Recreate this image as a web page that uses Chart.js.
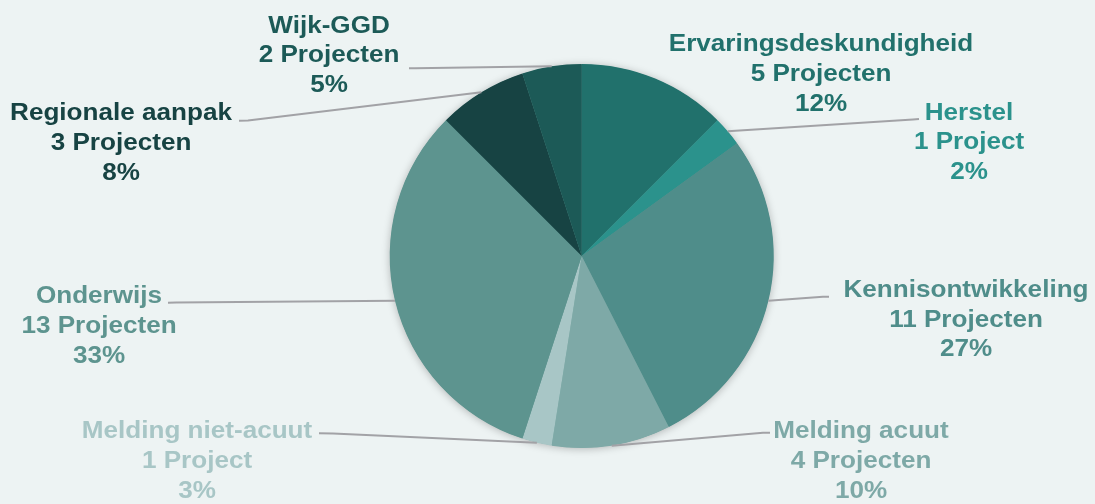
<!DOCTYPE html>
<html>
<head>
<meta charset="utf-8">
<title>Projecten per thema</title>
<script src="https://cdn.jsdelivr.net/npm/chart.js@4/dist/chart.umd.min.js"></script>
<style>
  html, body { margin: 0; padding: 0; background: #edf3f3; }
  canvas { display: block; }
</style>
</head>
<body>
<canvas id="pie" width="1095" height="504"></canvas>
<script>
// Project themes, number of projects per theme and the rounded shares shown in the labels
const themes = ['Ervaringsdeskundigheid', 'Herstel', 'Kennisontwikkeling', 'Melding acuut',
                'Melding niet-acuut', 'Onderwijs', 'Regionale aanpak', 'Wijk-GGD'];
const projectCounts = [5, 1, 11, 4, 1, 13, 3, 2];
const shareLabels = ['12%', '2%', '27%', '10%', '3%', '33%', '8%', '5%'];
const sliceColors = ['#21716c', '#2b928c', '#4f8d8a', '#7ea9a7', '#a8c6c6', '#5d948f', '#174343', '#1c5a57'];

// Where each label block sits: centre x and first baseline, plus the end of its leader line
const labelLayout = [
  { x: 821, y: 51,    attach: null },
  { x: 969, y: 119.5, attach: [919, 119],   elbow: [913, 119.5] },
  { x: 966, y: 296.7, attach: [829, 296.7], elbow: [823, 296.7] },
  { x: 861, y: 438.3, attach: [770, 432.7], elbow: [763, 432.8] },
  { x: 197, y: 438.3, attach: [319, 433.3], elbow: [333, 433.6] },
  { x: 99,  y: 303,   attach: [168, 302.7], elbow: [176, 302.6] },
  { x: 121, y: 120,   attach: [239, 120.7], elbow: [248, 120.5] },
  { x: 329, y: 32.5,  attach: [409, 68.3],  elbow: [415, 68.2] }
];

const FONT = 'bold 23.3px "Liberation Sans", Arial, sans-serif';
const STRETCH = 1.12;
const LINE_GAP = 29.8;

function countText(n) {
  return n + (n === 1 ? ' Project' : ' Projecten');
}

const backgroundPlugin = {
  id: 'pageBackground',
  beforeDraw(chart) {
    const ctx = chart.ctx;
    ctx.save();
    ctx.fillStyle = '#edf3f3';
    ctx.fillRect(0, 0, chart.width, chart.height);
    ctx.restore();
  }
};

// Soft shadow under the whole pie
const pieShadowPlugin = {
  id: 'pieShadow',
  beforeDatasetsDraw(chart) {
    const arc = chart.getDatasetMeta(0).data[0];
    if (!arc) return;
    const ctx = chart.ctx;
    ctx.save();
    ctx.shadowColor = 'rgba(0,0,0,0.28)';
    ctx.shadowBlur = 9;
    ctx.shadowOffsetX = 0;
    ctx.shadowOffsetY = 1;
    ctx.fillStyle = '#5d948f';
    ctx.beginPath();
    ctx.arc(arc.x, arc.y, arc.outerRadius - 0.5, 0, Math.PI * 2);
    ctx.fill();
    ctx.restore();
  }
};

// Category labels with count and share, and grey leader lines to the slices
const calloutPlugin = {
  id: 'callouts',
  afterDatasetsDraw(chart) {
    const ctx = chart.ctx;
    const arcs = chart.getDatasetMeta(0).data;
    ctx.save();
    arcs.forEach((arc, i) => {
      const lay = labelLayout[i];
      if (!lay.attach) return;
      const mid = (arc.startAngle + arc.endAngle) / 2;
      const ex = arc.x + Math.cos(mid) * arc.outerRadius;
      const ey = arc.y + Math.sin(mid) * arc.outerRadius;
      ctx.beginPath();
      ctx.moveTo(ex, ey);
      ctx.lineTo(lay.elbow[0], lay.elbow[1]);
      ctx.lineTo(lay.attach[0], lay.attach[1]);
      ctx.strokeStyle = '#a2a2a6';
      ctx.lineWidth = 2;
      ctx.lineJoin = 'round';
      ctx.stroke();
    });
    ctx.font = FONT;
    ctx.textAlign = 'center';
    ctx.textBaseline = 'alphabetic';
    themes.forEach((name, i) => {
      const lay = labelLayout[i];
      const lines = [name, countText(projectCounts[i]), shareLabels[i]];
      ctx.fillStyle = sliceColors[i];
      lines.forEach((t, k) => {
        ctx.save();
        ctx.translate(lay.x, lay.y + k * LINE_GAP);
        ctx.scale(STRETCH, 1);
        ctx.fillText(t, 0, 0);
        ctx.restore();
      });
    });
    ctx.restore();
  }
};

new Chart(document.getElementById('pie'), {
  type: 'pie',
  data: {
    labels: themes,
    datasets: [{
      data: projectCounts,
      backgroundColor: sliceColors,
      borderWidth: 0,
      hoverOffset: 0
    }]
  },
  options: {
    responsive: false,
    animation: false,
    events: [],
    layout: { padding: { left: 389.7, right: 321.3, top: 64, bottom: 56 } },
    plugins: {
      legend: { display: false },
      tooltip: { enabled: false },
      title: { display: false }
    }
  },
  plugins: [backgroundPlugin, pieShadowPlugin, calloutPlugin]
});
</script>
</body>
</html>
